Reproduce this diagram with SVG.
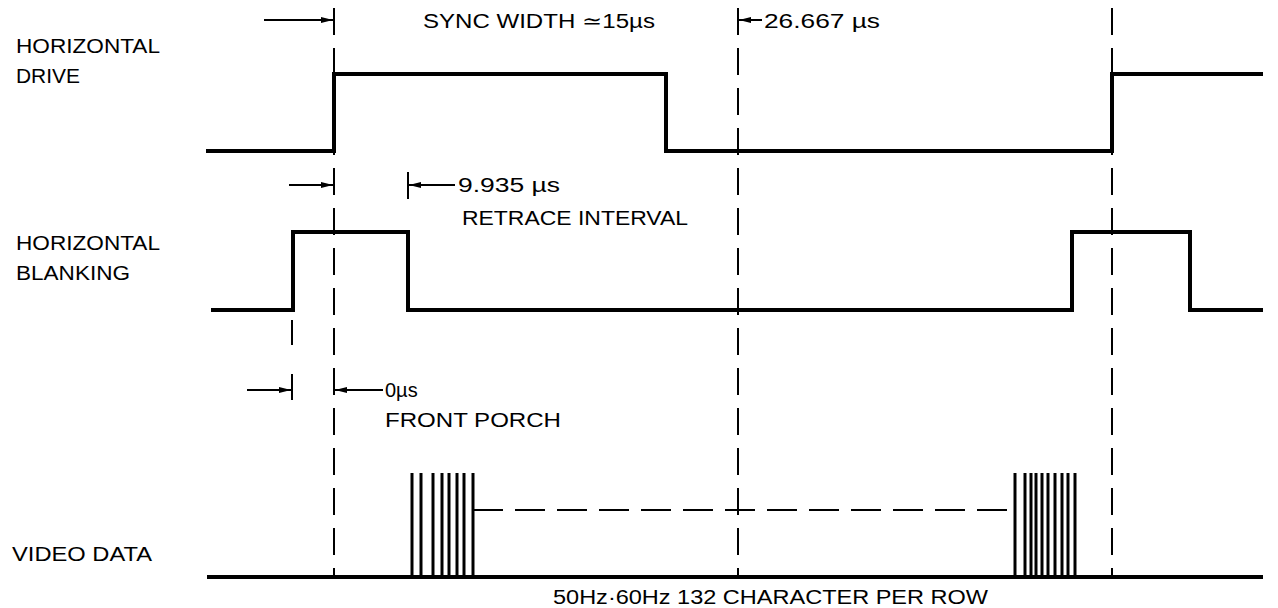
<svg xmlns="http://www.w3.org/2000/svg" width="1278" height="608" viewBox="0 0 1278 608">
<style>
.t{font-family:"Liberation Sans",Arial,sans-serif;font-size:20px;fill:#000}
.sig{fill:none;stroke:#000;stroke-width:4;stroke-linejoin:miter;stroke-linecap:butt}
.dash{fill:none;stroke:#000;stroke-width:2;stroke-dasharray:27 13}
.arr{fill:none;stroke:#000;stroke-width:2;marker-end:url(#ah)}
.tick{fill:none;stroke:#000;stroke-width:2}
.bar{stroke:#000;stroke-width:3}
</style>
<defs>
<marker id="ah" viewBox="0 0 12 6" refX="12" refY="3" markerWidth="12" markerHeight="6" markerUnits="userSpaceOnUse" orient="auto">
<path d="M0,0 L12,3 L0,6 Z" fill="#000"/>
</marker>
</defs>
<rect width="1278" height="608" fill="#fff"/>

<g id="labels">
<text class="t" x="16" y="53" textLength="144" lengthAdjust="spacingAndGlyphs">HORIZONTAL</text>
<text class="t" x="16" y="83" textLength="64" lengthAdjust="spacingAndGlyphs">DRIVE</text>
<text class="t" x="16" y="250" textLength="144" lengthAdjust="spacingAndGlyphs">HORIZONTAL</text>
<text class="t" x="16" y="280" textLength="114" lengthAdjust="spacingAndGlyphs">BLANKING</text>
<text class="t" x="12" y="561" textLength="140" lengthAdjust="spacingAndGlyphs">VIDEO DATA</text>
</g>

<g id="horizontal-drive">
<polyline class="sig" points="206,151 334,151 334,74 666,74 666,151 1112,151 1112,74 1263,74"/>
</g>

<g id="horizontal-blanking">
<polyline class="sig" points="211,310 293,310 293,232 408,232 408,310 1072,310 1072,232 1190,232 1190,310 1263,310"/>
</g>

<g id="video-data">
<line class="sig" x1="207" y1="577" x2="1263" y2="577"/>
<g class="bar">
<line x1="412" y1="473" x2="412" y2="577"/>
<line x1="421" y1="473" x2="421" y2="577"/>
<line x1="433" y1="473" x2="433" y2="577"/>
<line x1="442" y1="473" x2="442" y2="577"/>
<line x1="449" y1="473" x2="449" y2="577"/>
<line x1="457" y1="473" x2="457" y2="577"/>
<line x1="464" y1="473" x2="464" y2="577"/>
<line x1="473" y1="473" x2="473" y2="577"/>
<line x1="1015" y1="473" x2="1015" y2="577"/>
<line x1="1025" y1="473" x2="1025" y2="577"/>
<line x1="1031" y1="473" x2="1031" y2="577"/>
<line x1="1036" y1="473" x2="1036" y2="577"/>
<line x1="1042" y1="473" x2="1042" y2="577"/>
<line x1="1048" y1="473" x2="1048" y2="577"/>
<line x1="1055" y1="473" x2="1055" y2="577"/>
<line x1="1062" y1="473" x2="1062" y2="577"/>
<line x1="1068" y1="473" x2="1068" y2="577"/>
<line x1="1075" y1="473" x2="1075" y2="577"/>
</g>
<line x1="473" y1="510" x2="1015" y2="510" stroke="#000" stroke-width="2" stroke-dasharray="30 12"/>
</g>

<g id="connectors">
<line class="dash" x1="334" y1="8" x2="334" y2="577"/>
<line class="dash" x1="738" y1="8" x2="738" y2="577"/>
<line class="dash" x1="1112" y1="8" x2="1112" y2="577"/>
<line class="tick" x1="292" y1="320" x2="292" y2="345"/>
<line class="tick" x1="292" y1="374" x2="292" y2="400"/>
<line class="tick" x1="408" y1="172" x2="408" y2="199"/>
<line class="arr" x1="264" y1="20" x2="333" y2="20"/>
<line class="arr" x1="762" y1="20" x2="739" y2="20"/>
<line class="arr" x1="289" y1="185" x2="333" y2="185"/>
<line class="arr" x1="455" y1="185" x2="409" y2="185"/>
<line class="arr" x1="247" y1="390" x2="291" y2="390"/>
<line class="arr" x1="383" y1="390" x2="335" y2="390"/>
</g>

<g id="annotations">
<text class="t" x="423" y="28" textLength="232" lengthAdjust="spacingAndGlyphs">SYNC WIDTH ≃15µs</text>
<text class="t" x="764" y="28" textLength="116" lengthAdjust="spacingAndGlyphs">26.667 µs</text>
<text class="t" x="458" y="192" textLength="102" lengthAdjust="spacingAndGlyphs">9.935 µs</text>
<text class="t" x="462" y="225" textLength="226" lengthAdjust="spacingAndGlyphs">RETRACE INTERVAL</text>
<text class="t" x="385" y="397">0µs</text>
<text class="t" x="385" y="427" textLength="176" lengthAdjust="spacingAndGlyphs">FRONT PORCH</text>
<text class="t" x="553" y="604" textLength="435" lengthAdjust="spacingAndGlyphs">50Hz·60Hz 132 CHARACTER PER ROW</text>
</g>
</svg>
